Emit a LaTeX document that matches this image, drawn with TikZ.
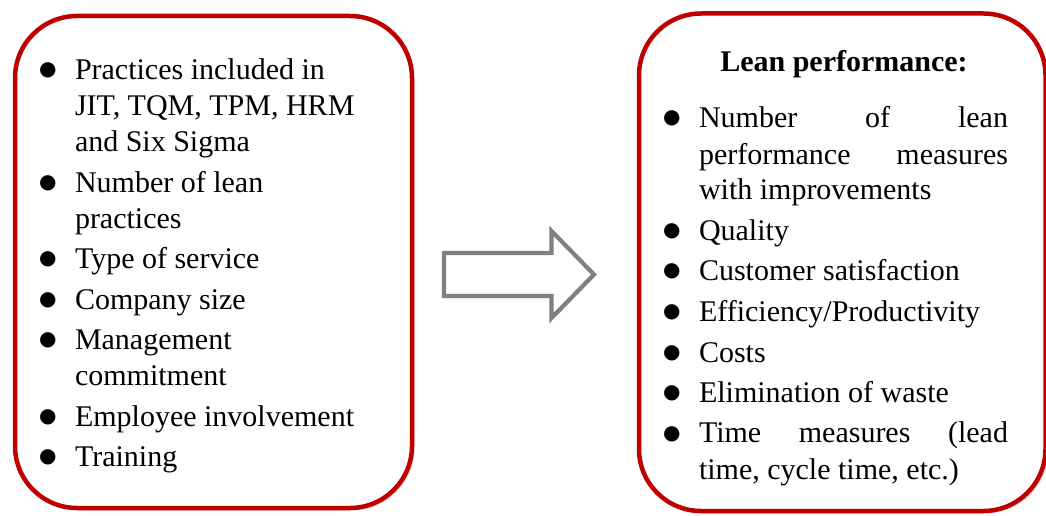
\documentclass[tikz,border=0pt]{standalone}
\usepackage{fontspec}
\setmainfont{Liberation Serif}
\newfontfamily\markfont{DejaVu Sans}
\usetikzlibrary{shadows}

\definecolor{boxred}{RGB}{192,0,0}
\definecolor{arrowgray}{RGB}{128,128,128}

% bullet marker and hanging-indent list entry
\newcommand\bulletmark{\makebox[37pt][l]{\hspace{1pt}\raisebox{4pt}{\markfont\fontsize{20}{20}\selectfont ●}}}
\newcommand\listentry{\par\noindent\hangindent=37pt\hangafter=1\bulletmark}
\newcommand\listsetup{\fontsize{30}{36}\selectfont\setlength\parskip{4.5pt}\setlength\rightskip{0pt plus 1fil}}

\tikzset{
  panel/.style={draw=boxred, line width=4.5pt, rounded corners=62pt, fill=white,
    inner sep=0pt, outer sep=0pt,
    drop shadow={shadow xshift=2.5pt, shadow yshift=-2.5pt, opacity=0.3, fill=black!45}},
  listtext/.style={anchor=base west, inner sep=0pt, outer sep=0pt},
  blockarrow/.style={draw=arrowgray, line width=4.2pt, fill=white, line join=miter,
    drop shadow={shadow xshift=1.5pt, shadow yshift=-1.5pt, opacity=0.25, fill=black!40}}
}

\begin{document}
\begin{tikzpicture}[x=1pt, y=-1pt]
  \useasboundingbox (0,0) rectangle (1046,516);

  % the two panels
  \node[panel, minimum width=397pt, minimum height=492pt] (factors) at (213.5,262) {};
  \node[panel, minimum width=406.5pt, minimum height=497.5pt] (performance) at (842.25,262.25) {};

  % left list
  \node[listtext] (factorlist) at (38,80) {\parbox[t]{340pt}{\listsetup
    \listentry Practices included in\\JIT, TQM, TPM, HRM\\and Six Sigma
    \listentry Number of lean\\practices
    \listentry Type of service
    \listentry Company size
    \listentry Management\\commitment
    \listentry Employee involvement
    \listentry Training\par}};

  % right panel heading and list
  \node[anchor=base, inner sep=0pt, font=\bfseries\fontsize{30}{36}\selectfont] (heading) at (844,72) {Lean performance:};

  \node[listtext] (measurelist) at (662,128) {\parbox[t]{350pt}{\listsetup
    \listentry \makebox[309pt][l]{Number\hfill of\hfill lean}\\
      \makebox[309pt][l]{performance\hfill measures}\\with improvements
    \listentry Quality
    \listentry Customer satisfaction
    \listentry Efficiency/Productivity
    \listentry Costs
    \listentry Elimination of waste
    \listentry \makebox[309pt][l]{Time\hfill measures\hfill (lead}\\time, cycle time, etc.)\par}};

  % block arrow between the panels
  \draw[blockarrow] (444,253) -- (551.5,253) -- (551.5,231) -- (594,274.5)
    -- (551.5,318) -- (551.5,296) -- (444,296) -- cycle;
\end{tikzpicture}
\end{document}
